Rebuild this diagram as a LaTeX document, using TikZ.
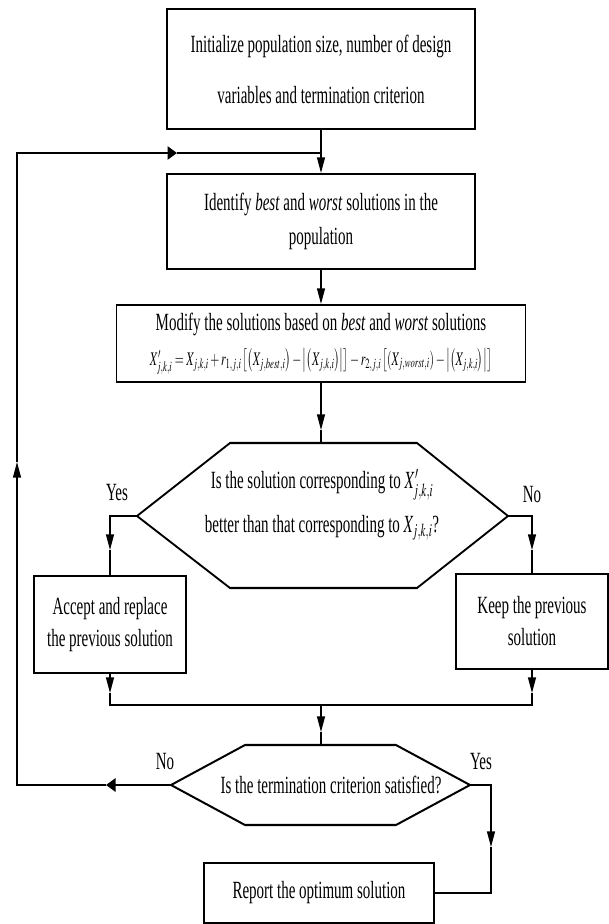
\documentclass[tikz,border=0pt]{standalone}
\usepackage{mathptmx}
\usepackage{graphicx}
\usepackage{fontspec}
\setmainfont{Liberation Serif}
\usetikzlibrary{arrows.meta}
\begin{document}
\begin{tikzpicture}[x=1pt,y=-1pt]
\fill[white] (0,0) rectangle (609,924);
\useasboundingbox (0,0) rectangle (609,924);
\begin{scope}[transform canvas={yscale=1.65}, x=1pt, y=-0.606061pt,
  line width=1.3pt, line join=miter,
  box/.style={draw, line width=1.25pt, inner sep=0pt, align=center,
    font=\fontsize{15}{18}\selectfont},
  lbl/.style={inner sep=0pt, align=center, font=\fontsize{15}{18}\selectfont},
  varr/.style={-{Triangle[length=9.5pt,width=8pt]}}]

% boxes
\node[box, minimum width=308pt, minimum height=72.7pt] (b1) at (321,69)
  {Initialize population size, number of design\\[13pt]variables and termination criterion};
\node[box, minimum width=308pt, minimum height=57.6pt] (b2) at (321,221.5)
  {Identify \textit{best} and \textit{worst} solutions in the\\[2.6pt]population};
\node[box, minimum width=409pt, minimum height=46.7pt] (b3) at (321,343.5)
  {Modify the solutions based on \textit{best} and \textit{worst} solutions\\[3pt]
   \resizebox{342pt}{!}{$X'_{j,k,i}=X_{j,k,i}+r_{1,j,i}\left[\left(X_{j,best,i}\right)-\left|\left(X_{j,k,i}\right)\right|\right]-r_{2,j,i}\left[\left(X_{j,worst,i}\right)-\left|\left(X_{j,k,i}\right)\right|\right]$}};
\node[box, minimum width=152pt, minimum height=58.8pt] (acc) at (110,624.5)
  {Accept and replace\\[1.4pt]the previous solution};
\node[box, minimum width=152pt, minimum height=57.6pt] (keep) at (532,621.5)
  {Keep the previous\\[1.4pt]solution};
\node[box, minimum width=230pt, minimum height=36.4pt] (rep) at (319,893)
  {Report the optimum solution};

% decision 1
\coordinate (h1w) at (137,516);
\coordinate (h1e) at (508,516);
\coordinate (h1n) at (321,443);
\draw (h1w) -- (230,443) -- (417,443) -- (h1e) -- (417,588) -- (230,588) -- cycle;
\node[lbl] (q1) at (322,505)
  {Is the solution corresponding to $X'_{j,k,i}$\\[8.7pt]better than that corresponding to $X_{j,k,i}$?};

% decision 2
\coordinate (h2w) at (171,785);
\coordinate (h2e) at (470,785);
\coordinate (h2n) at (321,745);
\draw (h2w) -- (245,745) -- (396,745) -- (h2e) -- (396,825) -- (245,825) -- cycle;
\node[lbl] (q2) at (331,785) {Is the termination criterion satisfied?};

% labels
\node[lbl] (yes1) at (117,493) {Yes};
\node[lbl] (no1) at (532,495) {No};
\node[lbl] (no2) at (165,762) {No};
\node[lbl] (yes2) at (481,762) {Yes};

% helper coordinates
\coordinate (fb) at (321,153);
\coordinate (t3) at (321,430);
\coordinate (yc) at (110,516);
\coordinate (t4) at (110,550);
\coordinate (nc) at (532,516);
\coordinate (t5) at (532,550);
\coordinate (t6) at (110,693);
\coordinate (t7) at (532,693);
\coordinate (m1) at (110,705);
\coordinate (m2) at (532,705);
\coordinate (mc) at (321,705);
\coordinate (t8) at (321,732);
\coordinate (t9) at (106,785);
\coordinate (c1) at (17,785);
\coordinate (t10) at (17,462);
\coordinate (c2) at (17,153);
\coordinate (t11) at (177,153);
\coordinate (c3) at (491,785);
\coordinate (t12) at (491,847);
\coordinate (c4) at (491,893);

% connectors
\draw[varr] (b1.south) -- (b2.north);
\draw[varr] (b2.south) -- (b3.north);
\draw[varr] (b3.south) -- (t3);
\draw (t3) -- (h1n);
\draw[varr] (h1w) -- (yc) -- (t4);
\draw (t4) -- (acc.north);
\draw[varr] (h1e) -- (nc) -- (t5);
\draw (t5) -- (keep.north);
\draw[varr] (acc.south) -- (t6);
\draw[varr] (keep.south) -- (t7);
\draw (t6) -- (m1) -- (m2) -- (t7);
\draw[varr] (mc) -- (t8);
\draw (t8) -- (h2n);
\draw[varr] (h2w) -- (t9);
\draw[varr] (t9) -- (c1) -- (t10);
\draw[varr] (t10) -- (c2) -- (t11);
\draw (t11) -- (fb);
\draw[varr] (h2e) -- (c3) -- (t12);
\draw (t12) -- (c4) -- (rep.east);
\end{scope}
\end{tikzpicture}
\end{document}
